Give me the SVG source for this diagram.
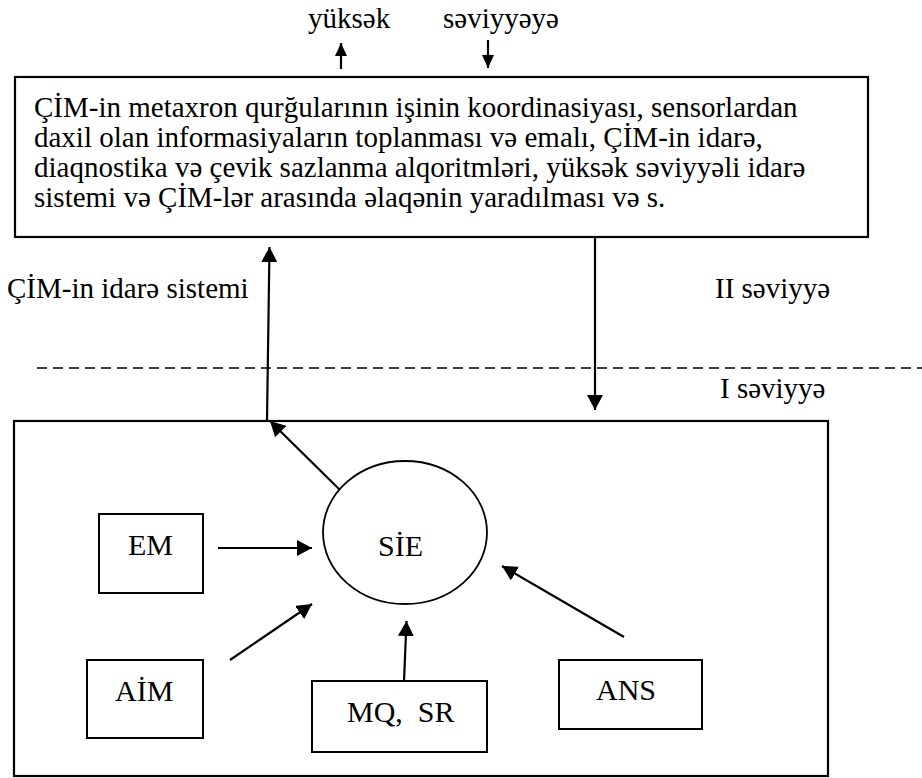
<svg xmlns="http://www.w3.org/2000/svg" width="922" height="778" viewBox="0 0 922 778">
  <style>
    .box { fill: #fff; stroke: #000; stroke-width: 2; }
    .frame { fill: none; stroke: #000; stroke-width: 2.2; }
    .conn { fill: none; stroke: #000; stroke-width: 2.2; }
    .dash { fill: none; stroke: #000; stroke-width: 1.5; stroke-dasharray: 10 6; }
  </style>
  <defs>
    <marker id="arr" markerUnits="userSpaceOnUse" markerWidth="16" markerHeight="16" refX="15" refY="8" orient="auto">
      <path d="M0,0 L15,8 L0,16 z" fill="#000"/>
    </marker>
    <marker id="arrS" markerUnits="userSpaceOnUse" markerWidth="14" markerHeight="12" refX="13" refY="6" orient="auto">
      <path d="M0,0 L13,6 L0,12 z" fill="#000"/>
    </marker>
  </defs>

  <rect width="922" height="778" fill="#fff"/>

  <!-- labels above the upper block -->
  <text x="308" y="28" font-family="Liberation Serif" font-size="29">yüksək</text>
  <text x="443" y="28" font-family="Liberation Serif" font-size="29">səviyyəyə</text>

  <!-- level captions -->
  <text x="7" y="298" font-family="Liberation Serif" font-size="29">ÇİM-in idarə sistemi</text>
  <text x="715" y="298" font-family="Liberation Serif" font-size="29">II səviyyə</text>
  <text x="720" y="398" font-family="Liberation Serif" font-size="29">I səviyyə</text>

  <!-- level separator -->
  <line class="dash" x1="37" y1="368" x2="922" y2="368"/>

  <!-- upper level block -->
  <g id="upper-block">
    <rect class="frame" x="15" y="77" width="853" height="160"/>
    <text x="34" y="117" font-family="Liberation Serif" font-size="29">ÇİM-in metaxron qurğularının işinin koordinasiyası, sensorlardan</text>
    <text x="34" y="147" font-family="Liberation Serif" font-size="29">daxil olan informasiyaların toplanması və emalı, ÇİM-in idarə,</text>
    <text x="34" y="177" font-family="Liberation Serif" font-size="29">diaqnostika və çevik sazlanma alqoritmləri, yüksək səviyyəli idarə</text>
    <text x="34" y="207" font-family="Liberation Serif" font-size="29">sistemi və ÇİM-lər arasında əlaqənin yaradılması və s.</text>
  </g>

  <!-- lower level frame -->
  <g id="lower-block">
    <rect class="frame" x="14" y="421" width="814" height="355"/>
  </g>

  <g id="sie">
    <ellipse cx="405" cy="532.5" rx="82" ry="71.5" fill="#fff" stroke="#000" stroke-width="1.8"/>
    <text x="378" y="556" font-family="Liberation Serif" font-size="30">SİE</text>
  </g>

  <g id="em">
    <rect class="box" x="99" y="514" width="104" height="79"/>
    <text x="128" y="555" font-family="Liberation Serif" font-size="30">EM</text>
  </g>

  <g id="aim">
    <rect class="box" x="87" y="660" width="116" height="78"/>
    <text x="115" y="701" font-family="Liberation Serif" font-size="30">AİM</text>
  </g>

  <g id="mq-sr">
    <rect class="box" x="312" y="681" width="175" height="71"/>
    <text x="347" y="722" font-family="Liberation Serif" font-size="30">MQ,<tspan dx="15">SR</tspan></text>
  </g>

  <g id="ans">
    <rect class="box" x="559" y="660" width="143" height="69"/>
    <text x="596" y="700" font-family="Liberation Serif" font-size="30">ANS</text>
  </g>

  <!-- connectors -->
  <g id="connectors">
    <line class="conn" x1="341" y1="69" x2="341" y2="43" marker-end="url(#arrS)"/>
    <line class="conn" x1="488" y1="40" x2="488" y2="68" marker-end="url(#arrS)"/>
    <line class="conn" x1="595" y1="237" x2="595" y2="410" marker-end="url(#arr)"/>
    <line class="conn" x1="267" y1="421" x2="269.5" y2="247" marker-end="url(#arr)"/>
    <line class="conn" x1="340" y1="490" x2="270" y2="421" marker-end="url(#arr)"/>
    <line class="conn" x1="218" y1="548" x2="312" y2="548" marker-end="url(#arr)"/>
    <line class="conn" x1="230" y1="660" x2="312" y2="604" marker-end="url(#arr)"/>
    <line class="conn" x1="404" y1="681" x2="406.5" y2="621" marker-end="url(#arr)"/>
    <line class="conn" x1="624" y1="637" x2="502" y2="566" marker-end="url(#arr)"/>
  </g>
</svg>
